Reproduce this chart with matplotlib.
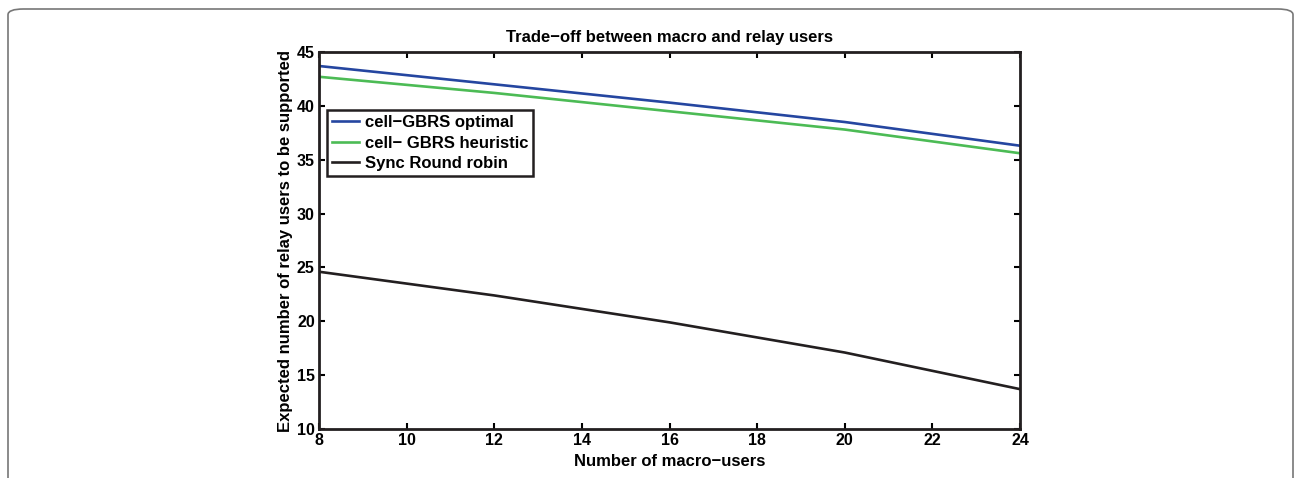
import matplotlib
matplotlib.use("Agg")
import matplotlib.pyplot as plt
from matplotlib.patches import FancyBboxPatch

# data
macro_users = [8, 12, 16, 20, 24]
gbrs_optimal = [43.7, 42.0, 40.3, 38.5, 36.3]
gbrs_heuristic = [42.7, 41.2, 39.5, 37.8, 35.6]
sync_round_robin = [24.6, 22.4, 19.9, 17.1, 13.7]

x_ticks = [8, 10, 12, 14, 16, 18, 20, 22, 24]
y_ticks = [10, 15, 20, 25, 30, 35, 40, 45]

plt.rcParams['font.family'] = ['Liberation Sans', 'DejaVu Sans']
plt.rcParams['font.weight'] = 'bold'

fig = plt.figure(figsize=(12.94, 4.78), dpi=100)
W, H = 1294, 478
ax = fig.add_axes([319 / W, 1 - 429 / H, (1020 - 319) / W, (429 - 52) / H])

# rounded frame around the whole figure (bottom runs off the edge)
frame = FancyBboxPatch((8 / W, -0.2), (1293 - 8) / W, 1.2 - 9 / H,
                       boxstyle="round,pad=0,rounding_size=0.012",
                       transform=fig.transFigure, fill=False,
                       edgecolor='#777777', linewidth=1.2, clip_on=False)
fig.patches.append(frame)

ax.plot(macro_users, gbrs_optimal, color='#2546a0', lw=1.9, label='cell−GBRS optimal')
ax.plot(macro_users, gbrs_heuristic, color='#4cbb55', lw=1.9, label='cell− GBRS heuristic')
ax.plot(macro_users, sync_round_robin, color='#231f20', lw=1.9, label='Sync Round robin')

ax.set_xlim(8, 24)
ax.set_ylim(10, 45)
ax.set_xticks(x_ticks)
ax.set_yticks(y_ticks)
ax.tick_params(direction='in', length=4.5, width=1.5, top=True, right=True,
               labelsize=11.5, pad=3)
for s in ax.spines.values():
    s.set_linewidth(2)
    s.set_color('#231f20')

ax.set_title('Trade−off between macro and relay users', fontsize=12, fontweight='bold', pad=7)
ax.set_xlabel('Number of macro−users', fontsize=12, fontweight='bold', labelpad=4)
ax.set_ylabel('Expected number of relay users to be supported', fontsize=12, fontweight='bold', labelpad=3)

leg = ax.legend(loc='upper left', bbox_to_anchor=(0.012, 0.846), fontsize=12,
                fancybox=False, framealpha=1, edgecolor='#231f20',
                handlelength=1.6, handletextpad=0.35, borderpad=0.3,
                labelspacing=0.33, borderaxespad=0)
leg.get_frame().set_linewidth(1.8)

fig.savefig('out.png', dpi=100)
